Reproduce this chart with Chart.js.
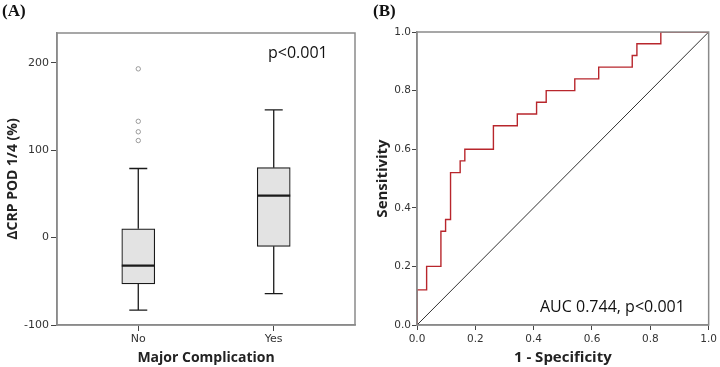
<!DOCTYPE html>
<html>
<head>
<meta charset="utf-8">
<script src="https://cdn.jsdelivr.net/npm/chart.js@4/dist/chart.umd.min.js"></script>
<style>
  body { margin: 0; background: #fff; }
  .wrap { display: flex; width: 720px; height: 367px; }
  canvas { display: block; }
</style>
</head>
<body>
<div class="wrap">
  <canvas id="boxChart" width="360" height="367"></canvas>
  <canvas id="rocChart" width="360" height="367"></canvas>
</div>
<script>
// --- DATA: panel A (box plot of ΔCRP POD 1/4, %) ---
const groups = ['No', 'Yes'];
const whiskerLow = [-83, -64];
const q1 = [-53, -10];
const median = [-32, 48];
const q3 = [10, 80];
const whiskerHigh = [79, 146];
const outliersNo = [193, 133, 121, 111];
const yTicksA = [-100, 0, 100, 200];

// --- DATA: panel B (ROC curve vertices) ---
const fpr = [0, 0, 0.033, 0.033, 0.082, 0.082, 0.098, 0.098, 0.115, 0.115, 0.148, 0.148,
  0.164, 0.164, 0.262, 0.262, 0.344, 0.344, 0.410, 0.410, 0.443, 0.443, 0.541, 0.541,
  0.623, 0.623, 0.738, 0.738, 0.754, 0.754, 0.836, 0.836, 1];
const tpr = [0, 0.12, 0.12, 0.20, 0.20, 0.32, 0.32, 0.36, 0.36, 0.52, 0.52, 0.56,
  0.56, 0.60, 0.60, 0.68, 0.68, 0.72, 0.72, 0.76, 0.76, 0.80, 0.80, 0.84,
  0.84, 0.88, 0.88, 0.92, 0.92, 0.96, 0.96, 1, 1];
const rocTicks = [0, 0.2, 0.4, 0.6, 0.8, 1.0];

const AXIS_GRAY = '#8a8a8a';
const TICK_FONT = { family: "'DejaVu Sans', sans-serif", size: 11 };

// draws the frame round the plot plus the panel letter and the note
function panelDecor(letter, note, noteX, noteY) {
  return {
    id: 'panelDecor',
    afterDraw(chart) {
      const { ctx, chartArea: a } = chart;
      ctx.save();
      ctx.strokeStyle = AXIS_GRAY;
      ctx.lineWidth = 1.5;
      ctx.strokeRect(a.left, a.top, a.right - a.left, a.bottom - a.top);
      ctx.fillStyle = '#111';
      ctx.font = "bold 17px 'Liberation Serif', serif";
      ctx.textBaseline = 'alphabetic';
      ctx.fillText(letter.text, letter.x, 16);
      ctx.font = "16px 'Open Sans', sans-serif";
      ctx.textBaseline = 'middle';
      ctx.fillText(note, noteX, noteY);
      ctx.restore();
    }
  };
}

// whiskers, caps and medians for the box plot
const boxExtras = {
  id: 'boxExtras',
  afterDatasetsDraw(chart) {
    const { ctx, scales: { x, y } } = chart;
    ctx.save();
    ctx.strokeStyle = '#1a1a1a';
    ctx.lineWidth = 1.3;
    groups.forEach((g, i) => {
      const cx = x.getPixelForValue(i);
      ctx.beginPath();
      ctx.moveTo(cx, y.getPixelForValue(q3[i]));
      ctx.lineTo(cx, y.getPixelForValue(whiskerHigh[i]));
      ctx.moveTo(cx, y.getPixelForValue(q1[i]));
      ctx.lineTo(cx, y.getPixelForValue(whiskerLow[i]));
      ctx.moveTo(cx - 9, y.getPixelForValue(whiskerHigh[i]));
      ctx.lineTo(cx + 9, y.getPixelForValue(whiskerHigh[i]));
      ctx.moveTo(cx - 9, y.getPixelForValue(whiskerLow[i]));
      ctx.lineTo(cx + 9, y.getPixelForValue(whiskerLow[i]));
      ctx.stroke();
      ctx.beginPath();
      ctx.lineWidth = 2.2;
      ctx.moveTo(cx - 16.5, y.getPixelForValue(median[i]));
      ctx.lineTo(cx + 16.5, y.getPixelForValue(median[i]));
      ctx.stroke();
      ctx.lineWidth = 1.3;
    });
    ctx.restore();
  }
};

const axisGrid = { display: true, drawOnChartArea: false, drawTicks: true, color: '#444', offset: false };
const axisBorder = { display: true, color: AXIS_GRAY, width: 1.5 };

new Chart(document.getElementById('boxChart'), {
  type: 'bar',
  data: {
    datasets: [
      {
        type: 'scatter',
        data: outliersNo.map(v => ({ x: 0, y: v })),
        pointRadius: 2.2,
        pointBorderWidth: 1,
        borderColor: '#9a9a9a',
        backgroundColor: '#fff'
      },
      {
        data: groups.map((g, i) => ({ x: i, y: [q1[i], q3[i]] })),
        backgroundColor: '#e3e3e3',
        borderColor: '#1a1a1a',
        borderWidth: 1.2,
        borderSkipped: false,
        barThickness: 33
      }
    ]
  },
  options: {
    responsive: false,
    animation: false,
    devicePixelRatio: 1,
    layout: { padding: { top: 33, right: 1.5, bottom: 0, left: 0 } },
    plugins: { legend: { display: false }, tooltip: { enabled: false } },
    scales: {
      x: {
        type: 'linear',
        offset: false,
        min: -0.6,
        max: 1.6,
        afterBuildTicks: s => { s.ticks = groups.map((g, i) => ({ value: i })); },
        afterFit: s => { s.height = 42; },
        grid: { ...axisGrid, tickLength: 6 },
        border: axisBorder,
        ticks: { color: '#333', font: TICK_FONT, padding: 2, callback: v => groups[v] },
        title: {
          display: true, text: 'Major Complication', color: '#222',
          font: { family: "'Open Sans', sans-serif", size: 14, weight: 'bold' },
          padding: { top: 0, bottom: 1 }
        }
      },
      y: {
        min: -100,
        max: 234,
        afterBuildTicks: s => { s.ticks = yTicksA.map(v => ({ value: v })); },
        afterFit: s => { s.width = 57; },
        grid: { ...axisGrid, tickLength: 6 },
        border: axisBorder,
        ticks: { color: '#333', font: TICK_FONT, padding: 2 },
        title: {
          display: true, text: 'ΔCRP POD 1/4 (%)', color: '#222',
          font: { family: "'Open Sans', sans-serif", size: 14, weight: 'bold' },
          padding: { top: 5, bottom: 0 }
        }
      }
    }
  },
  plugins: [boxExtras, panelDecor({ text: '(A)', x: 2 }, 'p<0.001', 268, 53)]
});

new Chart(document.getElementById('rocChart'), {
  type: 'scatter',
  data: {
    datasets: [
      {
        data: fpr.map((v, i) => ({ x: v, y: tpr[i] })),
        showLine: true,
        borderColor: '#b8262c',
        borderWidth: 1.4,
        pointRadius: 0
      },
      {
        data: [{ x: 0, y: 0 }, { x: 1, y: 1 }],
        showLine: true,
        borderColor: '#1a1a1a',
        borderWidth: 0.9,
        pointRadius: 0
      }
    ]
  },
  options: {
    responsive: false,
    animation: false,
    devicePixelRatio: 1,
    layout: { padding: { top: 32, right: 10, bottom: 0, left: 0 } },
    plugins: { legend: { display: false }, tooltip: { enabled: false } },
    scales: {
      x: {
        min: 0,
        max: 1,
        afterBuildTicks: s => { s.ticks = rocTicks.map(v => ({ value: v })); },
        afterFit: s => { s.height = 42; },
        grid: { ...axisGrid, tickLength: 5 },
        border: axisBorder,
        ticks: { color: '#333', font: { ...TICK_FONT, size: 10.5 }, padding: 3, callback: v => v.toFixed(1) },
        title: {
          display: true, text: '1 - Specificity', color: '#222',
          font: { family: "'Open Sans', sans-serif", size: 15, weight: 'bold' },
          padding: { top: 0, bottom: 0 }
        }
      },
      y: {
        min: 0,
        max: 1,
        afterBuildTicks: s => { s.ticks = rocTicks.map(v => ({ value: v })); },
        afterFit: s => { s.width = 57; },
        grid: { ...axisGrid, tickLength: 5 },
        border: axisBorder,
        ticks: { color: '#333', font: { ...TICK_FONT, size: 10.5 }, padding: 1, callback: v => v.toFixed(1) },
        title: {
          display: true, text: 'Sensitivity', color: '#222',
          font: { family: "'Open Sans', sans-serif", size: 15, weight: 'bold' },
          padding: { top: 14, bottom: 0 }
        }
      }
    }
  },
  plugins: [panelDecor({ text: '(B)', x: 13 }, 'AUC 0.744, p<0.001', 180, 307)]
});
</script>
</body>
</html>
